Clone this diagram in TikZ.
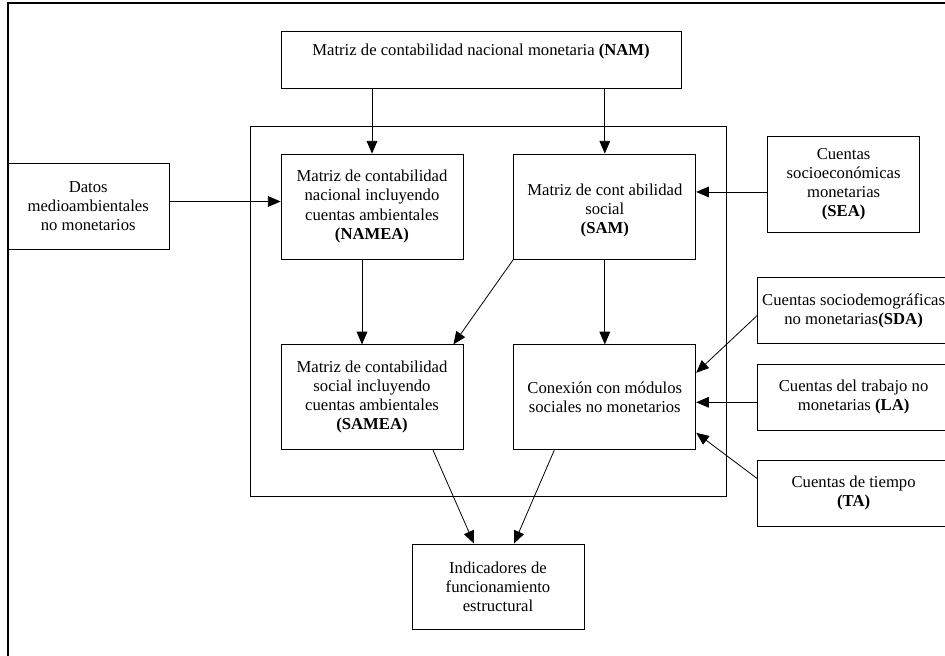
\documentclass[tikz,border=0pt]{standalone}
\usepackage{fontspec}
\setmainfont{Liberation Serif}
\usepackage{tikz}
\usetikzlibrary{arrows.meta, positioning}

\begin{document}
\begin{tikzpicture}[x=0.75pt, y=-0.75pt,
    font=\fontsize{12.5}{14.3}\selectfont,
    box/.style={draw, line width=0.6pt, align=center, inner sep=2pt},
    mbox/.style={box, minimum width=136.5pt, minimum height=78.75pt},
    side/.style={box, minimum width=144pt, minimum height=49.5pt},
    arrow/.style={draw, line width=0.6pt, -{Triangle[length=9.5pt, width=8pt]}}
]
    \clip (0,0) rectangle (945,656);
    % Outer frame
    \draw[line width=0.9pt] (8,3) rectangle (960,670);

    % Top matrix and inner frame
    \node[box, minimum width=300pt, minimum height=42.75pt] (nam) at (481,59.5) {Matriz de contabilidad nacional monetaria \textbf{(NAM)}\\ \mbox{}};
    \node[draw, line width=0.6pt, minimum width=357pt, minimum height=277.5pt] (frame) at (488,311) {};

    % Inner matrices
    \node[mbox] (namea) at (372,206.5) {Matriz de contabilidad\\nacional incluyendo\\cuentas ambientales\\\textbf{(NAMEA)}};
    \node[mbox, right=37.5pt of namea] (sam) {\mbox{}\\Matriz de cont abilidad\\social\\\textbf{(SAM)}};
    \node[mbox, below=63.75pt of namea] (samea) {Matriz de contabilidad\\social incluyendo\\cuentas ambientales\\\textbf{(SAMEA)}};
    \node[mbox, below=63.75pt of sam] (conex) {Conexión con módulos\\sociales no monetarios};

    % Outside sources
    \node[box, minimum width=121.5pt, minimum height=64.5pt, left=83.25pt of namea] (datos) {Datos\\medioambientales\\no monetarios};
    \node[box, minimum width=114pt, minimum height=72pt, right=53.25pt of sam, yshift=16.9pt] (sea) {Cuentas\\socioeconómicas\\monetarias\\\textbf{(SEA)}};
    \node[side, right=45.75pt of conex] (la) {Cuentas del trabajo no\\monetarias \textbf{(LA)}};
    \node[side, above=15pt of la] (sda) {Cuentas sociodemográficas\\no monetarias\textbf{(SDA)}};
    \node[side, below=21.75pt of la] (ta) {Cuentas de tiempo\\\textbf{(TA)}};

    % Result
    \node[box, minimum width=129pt, minimum height=63.75pt] (ind) at (498,586.5) {Indicadores de\\funcionamiento\\estructural};

    % Connections
    \draw[arrow] (nam.south -| namea) -- (namea);
    \draw[arrow] (nam.south -| sam) -- (sam);
    \draw[arrow] ([yshift=3.75pt]datos.east) -- ([yshift=3.75pt]namea.west);
    \draw[arrow] ([yshift=-6pt]sea.west) -- ([yshift=-6pt]sea.west -| sam.east);
    \draw[arrow] ([xshift=-7.5pt]namea.south) -- ([xshift=-7.5pt]samea.north);
    \draw[arrow] (sam.south west) -- ([xshift=-7.5pt]samea.north east);
    \draw[arrow] (sam) -- (conex);
    \draw[arrow] ([yshift=-3.75pt]sda.west) -- ([yshift=18.4pt]conex.east);
    \draw[arrow] ([yshift=-3.75pt]la.west) -- ([yshift=-3.75pt]conex.east);
    \draw[arrow] ([yshift=10.9pt]ta.west) -- ([yshift=-26.6pt]conex.east);
    \draw[arrow] ([xshift=45.75pt]samea.south) -- ([xshift=-18pt]ind.north);
    \draw[arrow] ([xshift=-37.9pt]conex.south) -- ([xshift=12pt]ind.north);
\end{tikzpicture}
\end{document}
